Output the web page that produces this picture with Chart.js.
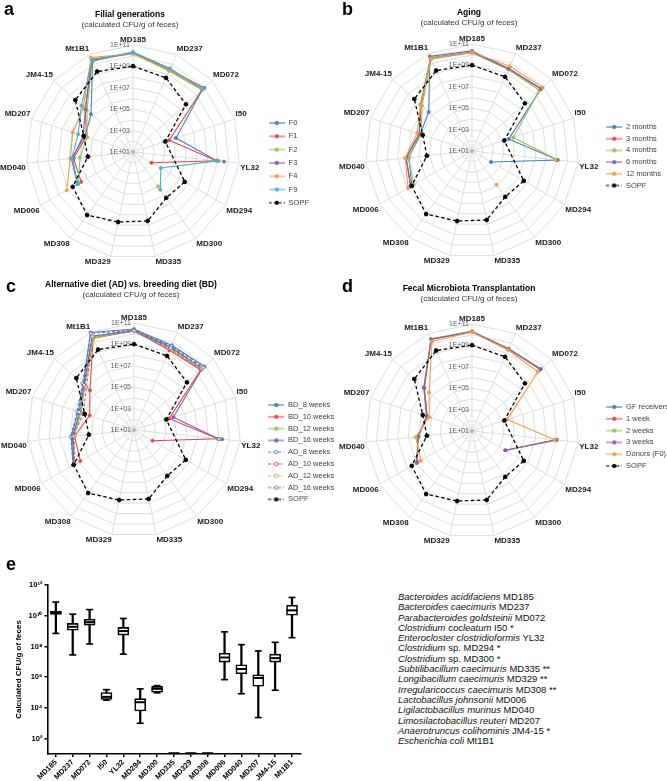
<!DOCTYPE html>
<html><head><meta charset="utf-8">
<script src="https://cdn.jsdelivr.net/npm/chart.js@4.4.1/dist/chart.umd.min.js"></script>
<style>
html,body{margin:0;padding:0;background:#fff;}
body{width:667px;height:781px;position:relative;overflow:hidden;font-family:'Liberation Sans',Arial,sans-serif;}
canvas{position:absolute;left:0;top:0;}
.letter{position:absolute;font-weight:bold;font-size:18px;line-height:18px;color:#000;}
#species{position:absolute;left:398px;top:592px;font-size:9.5px;line-height:10.3px;color:#111;white-space:nowrap;}
</style></head><body>
<canvas id="ca" width="390" height="300"></canvas>
<canvas id="cb" width="390" height="300"></canvas>
<canvas id="cc" width="390" height="300"></canvas>
<canvas id="cd" width="390" height="300"></canvas>
<canvas id="ce" width="345" height="245"></canvas>
<div class="letter" style="left:4px;top:0px">a</div>
<div class="letter" style="left:342px;top:0px">b</div>
<div class="letter" style="left:6px;top:277px">c</div>
<div class="letter" style="left:342px;top:277px">d</div>
<div class="letter" style="left:6px;top:555px">e</div>
<div id="species"></div>
<script>
const FONT = "'Liberation Sans', Arial, sans-serif";

// ---------- shared radar data ----------
const spokeLabels = ['MD185','MD237','MD072','I50','YL32','MD294','MD300','MD335','MD329','MD308','MD006','MD040','MD207','JM4-15','Mt1B1'];
const radarTickValues = [1, 3, 5, 7, 9, 11];
const radarTickLabels = ['1E+01','1E+03','1E+05','1E+07','1E+09','1E+11'];
// values are log10(CFU/g)
const sopfExp = [9.04, 8.6, 7.67, 4.18, null, 6.6, 6.3, 7.6, 7.7, 8.3, 7.52, 5.25, 5.85, 8.27, 9.25];

// ---------- panel a : Filial generations ----------
const aF0 = [10.35, 9.5, 9.75, 5.23, 8.89, null, null, null, null, null, 6.98, 6.8, 5.73, 6.29, 10.3];
const aF1 = [10.25, 9.35, 9.7, 4.56, 8.85, 3.0, null, null, null, null, 6.6, 6.6, 5.6, 7.0, 10.5];
const aF2 = [10.2, 9.3, 9.7, null, 9.1, null, null, null, null, null, 6.9, 6.0, 5.5, 6.8, 10.4];
const aF3 = [10.25, 9.45, 9.97, null, 9.57, null, null, null, null, null, 7.0, 6.7, 5.9, 7.0, 10.45];
const aF4 = [10.2, 9.4, 9.8, null, 8.85, null, 4.99, null, null, null, 8.18, 6.9, 6.93, 7.24, 10.68];
const aF9 = [10.35, 9.55, 9.8, null, 8.95, 4.0, 5.36, null, null, null, 7.0, 6.77, 6.4, 7.5, 10.4];

// ---------- panel b : Aging ----------
const b2m = [10.37, 9.43, 9.69, 4.61, 9.08, 3.06, null, null, null, null, 7.5, 6.95, 6.1, 6.45, 10.7];
const b3m = [10.25, 9.4, 9.7, null, 9.0, null, null, null, null, null, 7.66, 7.2, 6.2, 7.4, 10.5];
const b4m = [10.2, 9.35, 9.5, 5.06, 9.1, null, null, null, null, null, 7.3, 7.0, 6.0, 7.3, 10.4];
const b6m = [10.25, 9.45, 9.7, null, 9.0, null, null, null, null, null, 7.6, 7.2, 6.2, 7.5, 10.55];
const b12m = [10.25, 9.69, 9.9, null, 8.9, null, 4.9, null, null, null, 7.9, 7.3, 6.4, 7.45, 10.5];

// ---------- panel c : Alternative diet vs breeding diet ----------
const cBD8 = [10.45, 9.69, 9.88, null, 9.3, null, null, null, null, null, 7.57, 6.9, 6.5, 7.39, 11.0];
const cBD10 = [10.3, 9.17, 9.4, 4.45, 8.9, 3.0, null, null, null, null, 6.8, 6.6, 5.37, 6.55, 10.4];
const cBD12 = [10.3, 9.4, 9.5, null, 8.9, null, null, null, null, null, 7.5, 6.7, 6.2, 7.2, 10.4];
const cBD16 = [10.35, 9.5, 9.6, 4.87, 9.0, null, null, null, null, null, 7.5, 6.8, 6.3, 7.3, 10.6];
const cAD8 = [10.35, 9.6, 9.8, null, 9.1, null, null, null, null, null, 7.6, 6.95, 6.6, 7.5, 10.9];
const cAD10 = [10.25, 9.3, 9.5, null, 8.95, null, null, null, null, null, 7.4, 6.7, 6.0, 7.0, 10.5];
const cAD12 = [10.3, 9.35, 9.6, null, 9.0, null, null, null, null, null, 7.5, 6.6, 6.3, 7.2, 10.5];
const cAD16 = [10.3, 9.4, 9.7, null, 9.0, null, null, null, null, null, 7.5, 6.7, 6.4, 7.3, 10.6];

// ---------- panel d : Fecal Microbiota Transplantation ----------
const dGF = [null, null, null, null, null, null, null, null, null, null, null, null, null, null, null];
const d1w = [10.3, 9.4, 9.6, null, 8.9, 4.6, null, null, null, null, 6.9, 6.1, 5.4, 7.0, 10.4];
const d2w = [10.35, 9.45, 9.7, null, 9.0, 4.65, null, null, null, null, 7.0, 6.0, 5.5, 7.1, 10.45];
const d3w = [10.3, 9.4, 9.65, null, 8.95, 4.6, null, null, null, null, 6.98, 6.1, 5.45, 7.05, 10.4];
const dDonor = [10.25, 9.3, 9.3, 4.46, 8.8, null, null, null, null, null, 6.54, 6.3, 5.2, 6.4, 10.2];

// ---------- panel e : box plot (log10 CFU/g) ----------
const boxCategories = ['MD185','MD237','MD072','I50','YL32','MD294','MD300','MD335','MD329','MD308','MD006','MD040','MD207','JM4-15','Mt1B1'];
const boxMinExp = [8.85, 7.45, 8.16, 4.5, 7.5, 3.0, 4.98, 1.05, 1.05, 1.05, 5.84, 4.92, 3.37, 5.15, 8.57];
const boxQ1Exp  = [10.08, 9.06, 9.39, 4.55, 8.74, 3.8, 5.02, 1.05, 1.05, 1.05, 6.98, 6.23, 5.41, 6.98, 10.03];
const boxMedExp = [10.18, 9.28, 9.58, 4.72, 9.0, 4.37, 5.24, 1.05, 1.05, 1.05, 7.28, 6.53, 5.95, 7.24, 10.35];
const boxQ3Exp  = [10.29, 9.5, 9.77, 5.0, 9.24, 4.6, 5.4, 1.05, 1.05, 1.05, 7.56, 6.81, 6.16, 7.5, 10.68];
const boxMaxExp = [10.89, 10.1, 10.4, 5.19, 9.82, 5.24, 5.45, 1.05, 1.05, 1.05, 8.95, 8.12, 7.71, 8.27, 11.19];
const boxYTickValues = [1e2, 1e4, 1e6, 1e8, 1e10, 1e12];
const boxYTickLabels = ['10\u00B2', '10\u2074', '10\u2076', '10\u2078', '10\u00B9\u2070', '10\u00B9\u00B2'];

const speciesItalic = ['Bacteroides acidifaciens','Bacteroides caecimuris','Parabacteroides goldsteinii','Clostridium cocleatum','Enterocloster clostridioformis','Clostridium','Clostridium','Subtilibacillum caecimuris','Longibacillum caecimuris','Irregularicoccus caecimuris','Lactobacillus johnsonii','Ligilactobacillus murinus','Limosilactobacillus reuteri','Anaerotruncus colihominis','Escherichia coli'];
const speciesRest = ['MD185','MD237','MD072','I50 *','YL32','sp. MD294 *','sp. MD300 *','MD335 **','MD329 **','MD308 **','MD006','MD040','MD207','JM4-15 *','Mt1B1'];

// ---------- styles ----------
const COL = {blue:'#4a7ec0', red:'#e0474c', green:'#96c256', purple:'#8062ae', orange:'#f59a45', cyan:'#42b4d0', black:'#000000'};

function legendIcon(ds) {
  const c = document.createElement('canvas');
  c.width = 16; c.height = 6;
  const g = c.getContext('2d');
  g.strokeStyle = ds.borderColor; g.lineWidth = 1.1;
  if (ds.borderDash && ds.borderDash.length) g.setLineDash([3, 2]);
  g.beginPath(); g.moveTo(0, 3); g.lineTo(16, 3); g.stroke();
  g.setLineDash([]);
  g.beginPath(); g.arc(8, 3, 1.7, 0, Math.PI * 2);
  g.fillStyle = ds.pointBackgroundColor; g.fill(); g.lineWidth = 0.9; g.stroke();
  return c;
}

function toDataset(s, i, n) {
  const sopf = s.kind === 'sopf', open = s.kind === 'dash';
  return {
    label: s.name, data: s.data,
    borderColor: s.color, backgroundColor: s.color,
    borderWidth: sopf ? 1.3 : 1.1,
    borderDash: sopf ? [3.5, 2.5] : (open ? [3, 2] : []),
    pointRadius: sopf ? 1.9 : 1.5, pointHoverRadius: 0,
    pointBackgroundColor: open ? '#ffffff' : s.color,
    pointBorderColor: s.color, pointBorderWidth: 0.9,
    fill: false, spanGaps: sopf, tension: 0,
    order: n - i
  };
}

const radarDecor = {
  id: 'radarDecor',
  beforeDatasetsDraw(chart) {
    const s = chart.scales.r, ctx = chart.ctx;
    ctx.save();
    ctx.font = '7px ' + FONT; ctx.fillStyle = '#5a5a5a';
    ctx.textAlign = 'right'; ctx.textBaseline = 'middle';
    radarTickValues.forEach((v, i) => {
      const d = s.getDistanceFromCenterForValue(v);
      ctx.fillText(radarTickLabels[i], s.xCenter - 3, s.yCenter - d);
    });
    ctx.fillStyle = '#b0b0b0';
    ctx.beginPath(); ctx.arc(s.xCenter, s.yCenter, 1.8, 0, Math.PI * 2); ctx.fill();
    ctx.restore();
  }
};

function makeRadar(id, cfg) {
  const canvas = document.getElementById(id);
  const n = cfg.series.length;
  const datasets = cfg.series.map((s, i) => toDataset(s, i, n));
  const options = {
    responsive: false, animation: false, events: [],
    layout: {padding: {top: 0, left: 0, right: 40, bottom: 20}},
    plugins: {
      title: {display: true, text: cfg.title, fullSize: false, color: '#000',
        font: {family: FONT, size: 8.5, weight: 'bold'}, padding: {top: 4, bottom: 0}},
      subtitle: {display: true, text: '(calculated CFU/g of feces)', fullSize: false, color: '#333',
        font: {family: FONT, size: 8}, padding: {top: 0, bottom: 2}},
      legend: {display: true, position: 'right', align: 'start', fullSize: false,
        title: {display: true, text: '', font: {size: 1}, padding: {top: 10, bottom: 0}},
        labels: {usePointStyle: true, pointStyleWidth: 16, boxHeight: 7,
          font: {family: FONT, size: 7.5}, color: '#404040', padding: cfg.legendGap,
          generateLabels: (chart) => chart.data.datasets.map((ds, i) => ({
            text: ds.label, pointStyle: legendIcon(ds), fillStyle: ds.borderColor,
            strokeStyle: ds.borderColor, lineWidth: 0, hidden: false, datasetIndex: i, fontColor: '#404040'
          }))}},
      tooltip: {enabled: false}
    },
    scales: {
      r: {min: 1, max: 11, beginAtZero: false,
        ticks: {stepSize: 1, display: false},
        grid: {color: '#d9d9d9', lineWidth: 0.9},
        angleLines: {color: '#d9d9d9', lineWidth: 0.9},
        pointLabels: {font: {family: FONT, size: 8, weight: 'bold'}, color: '#1a1a1a', padding: 1}}
    }
  };
  const chart = new Chart(canvas, {type: 'radar', data: {labels: spokeLabels, datasets}, options, plugins: [radarDecor]});
  const pad = chart.config.options.layout.padding;
  for (let k = 0; k < 4; k++) {
    const a = chart.chartArea, s = chart.scales.r;
    pad.right = Math.max(0, pad.right + (a.right - a.left) - 266);
    pad.bottom = Math.max(0, pad.bottom + 2 * (s.drawingArea - 107));
    chart.update();
  }
  const s = chart.scales.r;
  const lg = chart.config.options.plugins.legend;
  const itemH = 7.5;
  lg.title.padding.top = Math.max(0, (s.yCenter + cfg.legendFirst) - chart.legend.top - cfg.legendGap - itemH / 2 - 1.2);
  chart.update();
  const s2 = chart.scales.r;
  canvas.style.left = (cfg.cx - s2.xCenter) + 'px';
  canvas.style.top = (cfg.cy - s2.yCenter) + 'px';
  return chart;
}

const sopfSeries = {name: 'SOPF', data: sopfExp, color: COL.black, kind: 'sopf'};

makeRadar('ca', {title: 'Filial generations', cx: 133, cy: 152, legendFirst: -29, legendGap: 5.8, series: [
  {name: 'F0', data: aF0, color: COL.blue, kind: 'solid'},
  {name: 'F1', data: aF1, color: COL.red, kind: 'solid'},
  {name: 'F2', data: aF2, color: COL.green, kind: 'solid'},
  {name: 'F3', data: aF3, color: COL.purple, kind: 'solid'},
  {name: 'F4', data: aF4, color: COL.orange, kind: 'solid'},
  {name: 'F9', data: aF9, color: COL.cyan, kind: 'solid'},
  sopfSeries]});

makeRadar('cb', {title: 'Aging', cx: 472, cy: 151, legendFirst: -24, legendGap: 4.2, series: [
  {name: '2 months', data: b2m, color: COL.blue, kind: 'solid'},
  {name: '3 months', data: b3m, color: COL.red, kind: 'solid'},
  {name: '4 months', data: b4m, color: COL.green, kind: 'solid'},
  {name: '6 months', data: b6m, color: COL.purple, kind: 'solid'},
  {name: '12 months', data: b12m, color: COL.orange, kind: 'solid'},
  sopfSeries]});

makeRadar('cc', {title: 'Alternative diet (AD) vs. breeding diet (BD)', cx: 134, cy: 430, legendFirst: -25, legendGap: 4.3, series: [
  {name: 'BD_8 weeks', data: cBD8, color: COL.blue, kind: 'solid'},
  {name: 'BD_10 weeks', data: cBD10, color: COL.red, kind: 'solid'},
  {name: 'BD_12 weeks', data: cBD12, color: COL.green, kind: 'solid'},
  {name: 'BD_16 weeks', data: cBD16, color: COL.purple, kind: 'solid'},
  {name: 'AD_8 weeks', data: cAD8, color: COL.blue, kind: 'dash'},
  {name: 'AD_10 weeks', data: cAD10, color: COL.red, kind: 'dash'},
  {name: 'AD_12 weeks', data: cAD12, color: COL.green, kind: 'dash'},
  {name: 'AD_16 weeks', data: cAD16, color: COL.purple, kind: 'dash'},
  sopfSeries]});

makeRadar('cd', {title: 'Fecal Microbiota Transplantation', cx: 472, cy: 431, legendFirst: -24, legendGap: 4.3, series: [
  {name: 'GF receivers', data: dGF, color: COL.blue, kind: 'solid'},
  {name: '1 week', data: d1w, color: COL.red, kind: 'solid'},
  {name: '2 weeks', data: d2w, color: COL.green, kind: 'solid'},
  {name: '3 weeks', data: d3w, color: COL.purple, kind: 'solid'},
  {name: 'Donors (F0)', data: dDonor, color: COL.orange, kind: 'solid'},
  sopfSeries]});

// ---------- box plot ----------
(function () {
  const p10 = e => Math.pow(10, e);
  const flat = boxQ1Exp.map((q, i) => boxMaxExp[i] <= boxMinExp[i]);
  const whiskers = boxMinExp.map((m, i) => flat[i] ? null : [p10(m), p10(boxMaxExp[i])]);
  const boxes = boxQ1Exp.map((q, i) => flat[i] ? null : [p10(q), p10(boxQ3Exp[i])]);
  const medians = boxMedExp.map(p10);
  const maxCaps = boxMaxExp.map((v, i) => flat[i] ? null : p10(v));
  const minCaps = boxMinExp.map((v, i) => flat[i] ? null : p10(v));
  const canvas = document.getElementById('ce');
  const lineDs = (data, r, ord, w) => ({type: 'line', data, showLine: false, pointStyle: 'line', pointRadius: r,
    pointHoverRadius: r, pointBorderColor: '#000', pointBackgroundColor: '#000', pointBorderWidth: w,
    borderColor: '#000', clip: false, order: ord});
  const options = {
    responsive: false, animation: false, events: [],
    layout: {padding: {top: 10, left: 0, right: 30, bottom: 0}},
    plugins: {legend: {display: false}, tooltip: {enabled: false}},
    scales: {
      x: {type: 'category', offset: true,
        grid: {offset: false, drawOnChartArea: false, drawTicks: true, tickLength: 3, color: '#000', lineWidth: 1.5},
        border: {color: '#000', width: 1.6},
        ticks: {minRotation: 45, maxRotation: 45, autoSkip: false, padding: 1, color: '#000',
          font: {family: FONT, size: 7.5, weight: 'bold'}}},
      y: {type: 'logarithmic', min: 10, max: 1e12,
        afterBuildTicks: (sc) => { sc.ticks = boxYTickValues.map(v => ({value: v})); },
        grid: {drawOnChartArea: false, drawTicks: true, tickLength: 3, color: '#000', lineWidth: 1.5},
        border: {color: '#000', width: 1.6},
        ticks: {color: '#000', padding: 2, font: {family: FONT, size: 7.5, weight: 'bold'},
          callback: (v) => { const i = boxYTickValues.indexOf(v); return i >= 0 ? boxYTickLabels[i] : ''; }},
        title: {display: true, text: 'Calculated CFU/g of feces', color: '#000', padding: {top: 0, bottom: 3},
          font: {family: FONT, size: 8, weight: 'bold'}}}
    }
  };
  const chart = new Chart(canvas, {
    type: 'bar',
    data: {labels: boxCategories, datasets: [
      {type: 'bar', data: whiskers, backgroundColor: '#000', barThickness: 1.6, grouped: false, order: 5},
      {type: 'bar', data: boxes, backgroundColor: '#fff', borderColor: '#000', borderWidth: 1.6,
        borderSkipped: false, barThickness: 11, grouped: false, order: 4},
      lineDs(medians, 5.5, 1, 2),
      lineDs(maxCaps, 3.5, 2, 1.6),
      lineDs(minCaps, 3.5, 3, 1.6)
    ]},
    options
  });
  const pad = chart.config.options.layout.padding;
  for (let k = 0; k < 3; k++) {
    const a = chart.chartArea;
    pad.right = Math.max(0, pad.right + (a.right - a.left) - 253);
    pad.bottom = Math.max(0, pad.bottom + (a.bottom - a.top) - 169);
    chart.update();
  }
  const a = chart.chartArea;
  canvas.style.left = (47 - a.left) + 'px';
  canvas.style.top = (585 - a.top) + 'px';
})();

// ---------- species list ----------
document.getElementById('species').innerHTML = speciesItalic.map((it, i) =>
  '<div><i>' + it + '</i> ' + speciesRest[i] + '</div>').join('');
</script>
</body></html>
